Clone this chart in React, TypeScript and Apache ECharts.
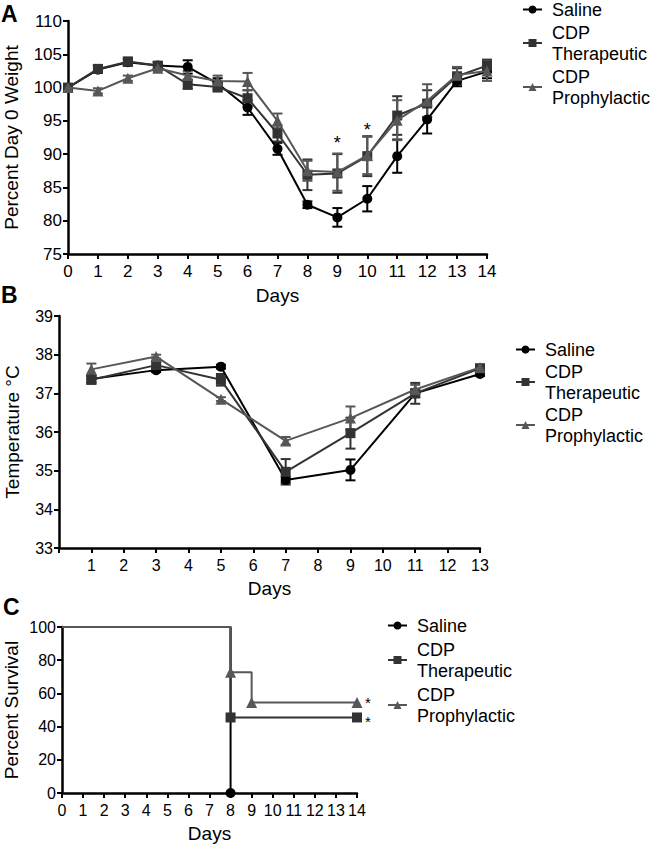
import React, { useEffect, useRef } from "react";
import * as echarts from "echarts";

const FONT = "'Liberation Sans', Arial, Helvetica, sans-serif";

const GROUPS = ["Saline", "CDP\nTherapeutic", "CDP\nProphylactic"];
const COLORS = ["#000000", "#333333", "#575757"];
const SYMBOLS = ["circle", "rect", "triangle"];

// Panel A: weight
const weightDays = [0, 1, 2, 3, 4, 5, 6, 7, 8, 9, 10, 11, 12, 13, 14];
const weightSaline = [100, 102.7, 103.8, 103.3, 103.1, 100.6, 97.0, 90.8, 82.4, 80.5, 83.3, 89.7, 95.2, 101.0, 102.4];
const weightSalineErr = [0.3, 0.5, 0.5, 0.5, 1.0, 0.8, 1.1, 0.9, 0.5, 1.4, 1.9, 2.5, 2.1, 0.8, 1.0];
const weightTher = [100, 102.8, 103.9, 103.3, 100.5, 100.1, 98.4, 93.1, 86.9, 87.1, 89.7, 95.8, 97.6, 101.7, 103.3];
const weightTherErr = [0.3, 0.6, 0.6, 0.5, 0.7, 0.7, 1.2, 1.2, 2.3, 2.9, 3.0, 2.9, 2.0, 1.2, 0.9];
const weightProph = [100, 99.5, 101.4, 102.9, 101.8, 101.0, 100.9, 95.0, 87.5, 87.3, 89.8, 95.1, 98.0, 101.9, 102.5];
const weightProphErr = [0.3, 0.4, 0.4, 0.4, 0.7, 0.8, 1.3, 1.1, 1.5, 2.8, 2.8, 3.0, 2.5, 1.2, 1.5];
const weightStars = [[9, 91.6], [10, 93.7]];

// Panel B: temperature
const tempDays = [1, 3, 5, 7, 9, 11, 13];
const tempSaline = [37.37, 37.6, 37.69, 34.76, 35.02, 37.0, 37.5];
const tempSalineErr = [0.08, 0.05, 0.05, 0.07, 0.27, 0.1, 0.05];
const tempTher = [37.35, 37.73, 37.35, 34.97, 35.97, 37.0, 37.65];
const tempTherErr = [0.1, 0.08, 0.15, 0.33, 0.4, 0.27, 0.06];
const tempProph = [37.62, 37.95, 36.85, 35.77, 36.36, 37.1, 37.67];
const tempProphErr = [0.15, 0.05, 0.05, 0.1, 0.3, 0.12, 0.05];

// Panel C: survival
const survSaline = [[0, 100], [8, 0]];
const survTher = [[0, 100], [8, 45.5], [14, 45.5]];
const survProph = [[0, 100], [8, 72.7], [9, 54.5], [14, 54.5]];
const survStars = [[14, 55.5], [14, 44.5]];

function pairs(days: number[], vals: number[]) {
  return days.map((d, i) => [d, vals[i]]);
}
function errData(days: number[], vals: number[], errs: number[]) {
  return days.map((d, i) => [d, vals[i] - errs[i], vals[i] + errs[i]]);
}

export default function App() {
  const ref = useRef<HTMLDivElement>(null);
  useEffect(() => {
    if (!ref.current) return;
    const chart = echarts.init(ref.current, null, { renderer: "svg" });

    const axisLine = { show: true, lineStyle: { color: "#000", width: 2.5 } };
    const axisTick = { show: true, inside: false, length: 5, lineStyle: { color: "#000", width: 2 } };

    const errRender = (color: string) => (params: any, api: any) => {
      const x = api.value(0);
      const lo = api.coord([x, api.value(1)]);
      const hi = api.coord([x, api.value(2)]);
      const w = 5;
      const style = { stroke: color, lineWidth: 2 };
      return {
        type: "group",
        children: [
          { type: "line", shape: { x1: lo[0], y1: lo[1], x2: hi[0], y2: hi[1] }, style },
          { type: "line", shape: { x1: lo[0] - w, y1: lo[1], x2: lo[0] + w, y2: lo[1] }, style },
          { type: "line", shape: { x1: hi[0] - w, y1: hi[1], x2: hi[0] + w, y2: hi[1] }, style },
        ],
      };
    };

    const starRender = (dx: number, size: number, dy: number) => (params: any, api: any) => {
      const p = api.coord([api.value(0), api.value(1)]);
      return {
        type: "text",
        x: p[0] + dx,
        y: p[1] + dy,
        style: {
          text: "*",
          fill: "#000",
          font: `${size}px ${FONT}`,
          align: "center",
          verticalAlign: "middle",
        },
      };
    };

    const lineSeries = (name: string, gi: number, data: any[], ax: number, extra: any = {}) => ({
      type: "line",
      name,
      xAxisIndex: ax,
      yAxisIndex: ax,
      data,
      symbol: SYMBOLS[gi],
      symbolSize: gi === 2 ? 11 : 10,
      showSymbol: true,
      lineStyle: { color: COLORS[gi], width: 2 },
      itemStyle: { color: COLORS[gi] },
      z: 3 + gi,
      ...extra,
    });

    const errSeries = (gi: number, data: any[], ax: number) => ({
      type: "custom",
      name: "err" + ax + "_" + gi,
      xAxisIndex: ax,
      yAxisIndex: ax,
      data,
      encode: { x: 0, y: [1, 2] },
      renderItem: errRender(COLORS[gi]),
      z: 2,
      silent: true,
    });

    const legend = (left: number, top: number, gap: number) => ({
      data: GROUPS,
      orient: "vertical",
      left,
      top,
      padding: 0,
      itemGap: gap,
      itemWidth: 19,
      itemHeight: 10,
      selectedMode: false,
      textStyle: { fontFamily: FONT, fontSize: 18, lineHeight: 21, color: "#000", padding: [0, 0, 0, 5] },
    });

    const xAxisBase = (idx: number, min: number, max: number, fontSize: number, nameGap: number, hideZero = false) => ({
      type: "value",
      gridIndex: idx,
      min,
      max,
      interval: 1,
      name: "Days",
      nameLocation: "middle",
      nameGap,
      nameTextStyle: { fontFamily: FONT, fontSize: 19, color: "#000" },
      axisLine,
      axisTick,
      splitLine: { show: false },
      axisLabel: {
        fontFamily: FONT,
        fontSize,
        color: "#000",
        margin: 9,
        interval: 0,
        hideOverlap: false,
        showMinLabel: true,
        showMaxLabel: true,
        formatter: (v: number) => (hideZero && v === 0 ? "" : String(v)),
      },
    });

    const yAxisBase = (idx: number, min: number, max: number, interval: number, name: string, fontSize: number, nameGap: number, margin: number) => ({
      type: "value",
      gridIndex: idx,
      min,
      max,
      interval,
      name,
      nameLocation: "middle",
      nameGap,
      nameTextStyle: { fontFamily: FONT, fontSize: 19, color: "#000" },
      axisLine,
      axisTick,
      splitLine: { show: false },
      axisLabel: { fontFamily: FONT, fontSize, color: "#000", margin, showMinLabel: true, showMaxLabel: true },
    });

    const option: any = {
      animation: false,
      backgroundColor: "#fff",
      textStyle: { fontFamily: FONT },
      grid: [
        { left: 68, top: 21, width: 419, height: 233, containLabel: false, outerBoundsMode: "none" },
        { left: 59, top: 316, width: 421, height: 232, containLabel: false, outerBoundsMode: "none" },
        { left: 62, top: 627, width: 295, height: 166, containLabel: false, outerBoundsMode: "none" },
      ],
      xAxis: [
        xAxisBase(0, 0, 14, 17, 32),
        xAxisBase(1, 0, 13, 16, 31, true),
        xAxisBase(2, 0, 14, 16, 31),
      ],
      yAxis: [
        yAxisBase(0, 75, 110, 5, "Percent Day 0 Weight", 17, 47, 6),
        yAxisBase(1, 33, 39, 1, "Temperature °C", 16, 37, 6),
        yAxisBase(2, 0, 100, 20, "Percent Survival", 16, 41, 6),
      ],
      legend: [legend(522, -1, 2), legend(515, 339, 1), legend(387, 615, 3)],
      graphic: [
        { type: "text", left: 1, top: 2, style: { text: "A", font: `bold 23px ${FONT}`, fill: "#000" } },
        { type: "text", left: 1, top: 283, style: { text: "B", font: `bold 23px ${FONT}`, fill: "#000" } },
        { type: "text", left: 3, top: 595, style: { text: "C", font: `bold 23px ${FONT}`, fill: "#000" } },
      ],
      series: [
        // Panel A
        errSeries(0, errData(weightDays, weightSaline, weightSalineErr), 0),
        errSeries(1, errData(weightDays, weightTher, weightTherErr), 0),
        errSeries(2, errData(weightDays, weightProph, weightProphErr), 0),
        lineSeries(GROUPS[0], 0, pairs(weightDays, weightSaline), 0),
        lineSeries(GROUPS[1], 1, pairs(weightDays, weightTher), 0),
        lineSeries(GROUPS[2], 2, pairs(weightDays, weightProph), 0),
        {
          type: "custom",
          name: "starsA",
          xAxisIndex: 0,
          yAxisIndex: 0,
          data: weightStars,
          encode: { x: 0, y: 1 },
          renderItem: starRender(0, 18, 0),
          z: 6,
        },
        // Panel B
        errSeries(0, errData(tempDays, tempSaline, tempSalineErr), 1),
        errSeries(1, errData(tempDays, tempTher, tempTherErr), 1),
        errSeries(2, errData(tempDays, tempProph, tempProphErr), 1),
        lineSeries(GROUPS[0], 0, pairs(tempDays, tempSaline), 1),
        lineSeries(GROUPS[1], 1, pairs(tempDays, tempTher), 1),
        lineSeries(GROUPS[2], 2, pairs(tempDays, tempProph), 1),
        // Panel C
        lineSeries(GROUPS[0], 0, survSaline.map((p, i) => (i === 0 ? { value: p, symbol: "none" } : { value: p })), 2, { step: "end", z: 3 }),
        lineSeries(GROUPS[1], 1, survTher.map((p, i) => (i === 0 ? { value: p, symbol: "none" } : { value: p })), 2, { step: "end", z: 4 }),
        lineSeries(GROUPS[2], 2, survProph.map((p, i) => (i === 0 ? { value: p, symbol: "none" } : { value: p })), 2, { step: "end", z: 5 }),
        {
          type: "custom",
          name: "starsC",
          xAxisIndex: 2,
          yAxisIndex: 2,
          data: survStars,
          encode: { x: 0, y: 1 },
          renderItem: starRender(11, 15, 2),
          z: 6,
        },
      ],
    };

    chart.setOption(option);
    return () => chart.dispose();
  }, []);

  return (
    <div
      ref={ref}
      style={{ position: "absolute", left: 0, top: 0, width: 650, height: 847, background: "#fff" }}
    />
  );
}
